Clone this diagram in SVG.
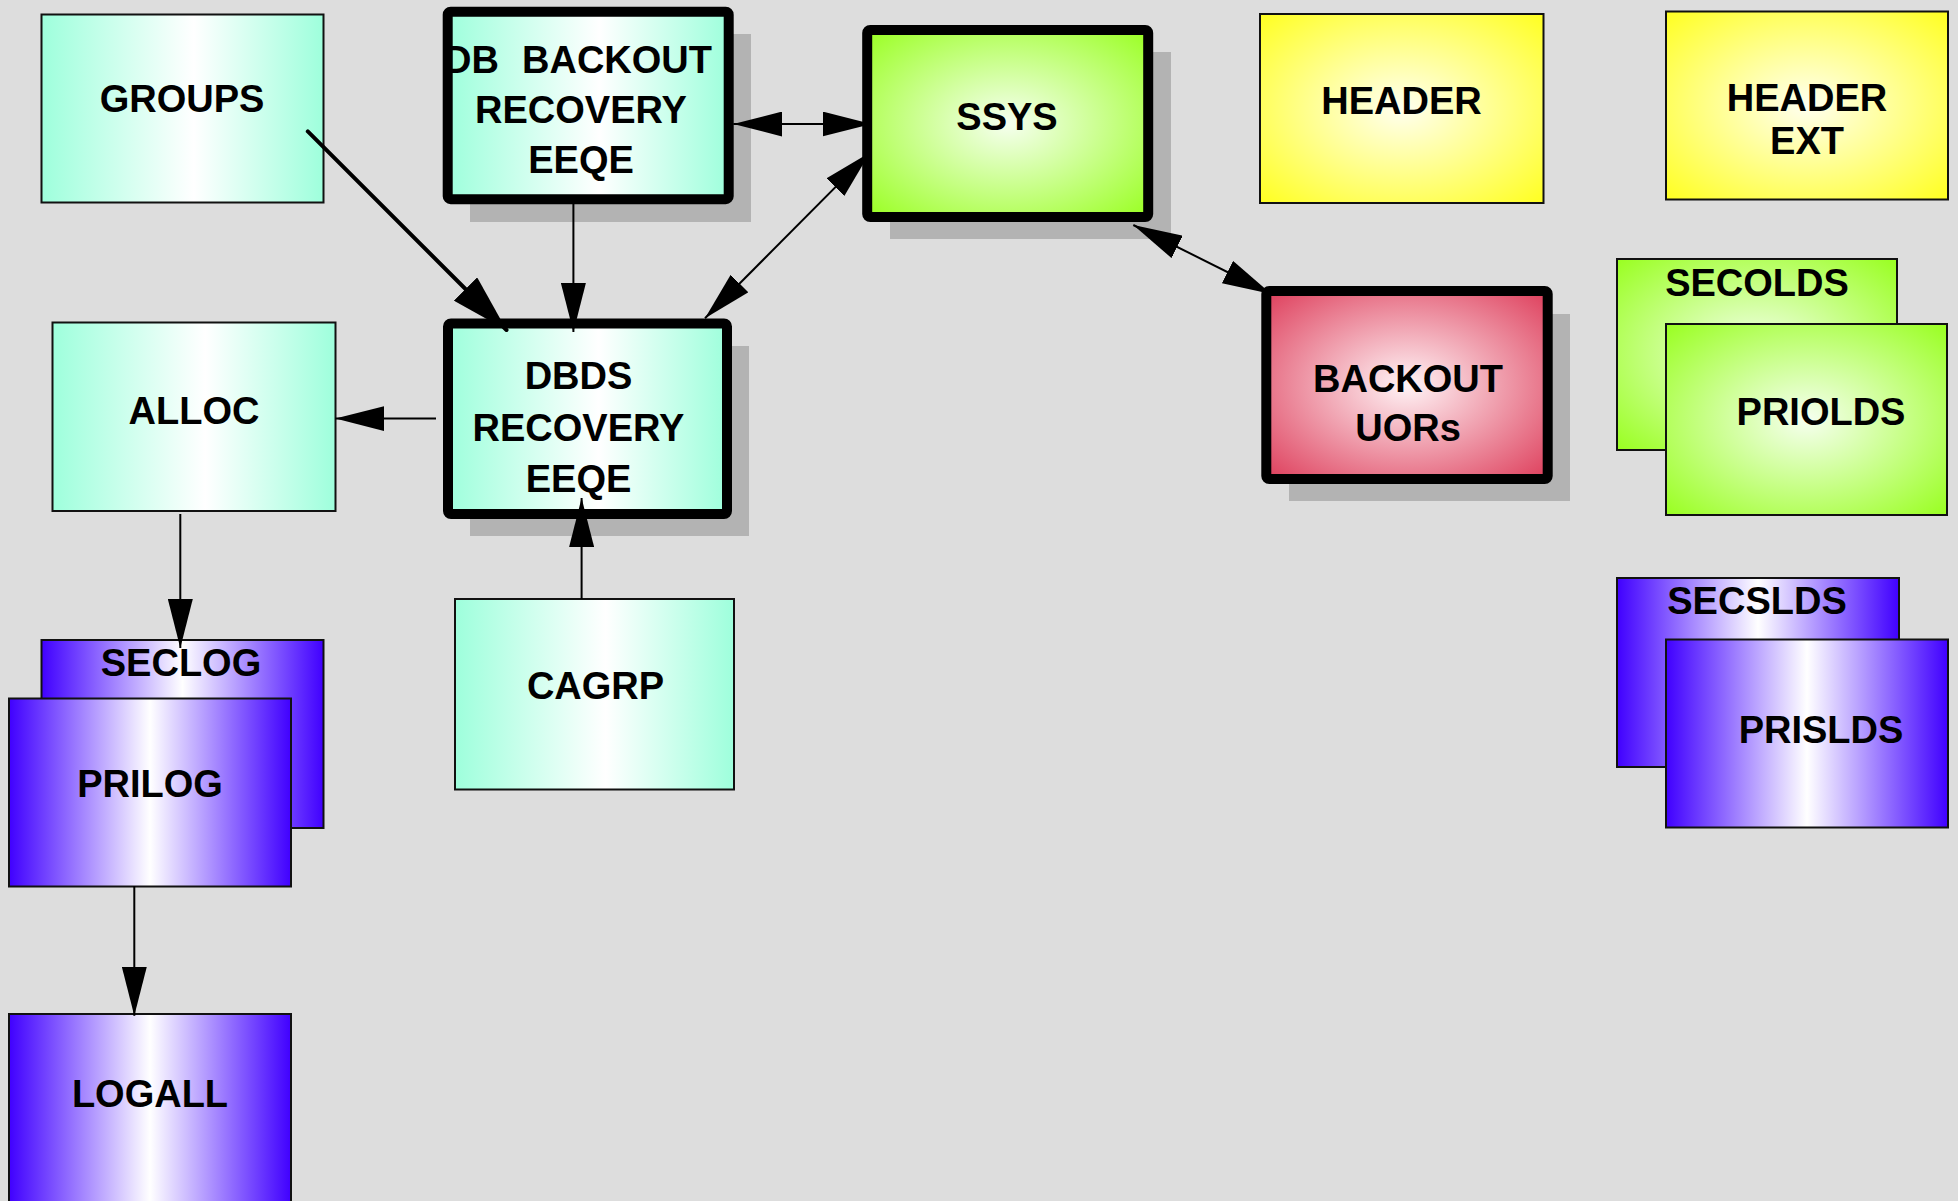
<svg xmlns="http://www.w3.org/2000/svg" width="1958" height="1201" viewBox="0 0 1958 1201">
  <defs>
    <style>
      .lbl { font-family: "Liberation Sans", Arial, Helvetica, sans-serif; font-weight: bold; font-size: 38px; fill: #000; text-anchor: middle; }
      .thin { stroke: #111; stroke-width: 2; }
      .thick { stroke: #000; stroke-width: 10; stroke-linejoin: round; fill: none; }
      .shadow { fill: #b3b3b3; }
      .aqua { fill: url(#gAqua); }
      .violet { fill: url(#gViolet); }
      .yellow { fill: url(#gYellow); }
      .lime { fill: url(#gLime); }
      .rose { fill: url(#gRose); }
      #connectors line { stroke: #000; stroke-width: 2; fill: none; }
    </style>
    <linearGradient id="gAqua" x1="0" y1="0" x2="1" y2="0">
      <stop offset="0" stop-color="#9effdc"/>
      <stop offset="0.54" stop-color="#ffffff"/>
      <stop offset="1" stop-color="#9effdc"/>
    </linearGradient>
    <linearGradient id="gViolet" x1="0" y1="0" x2="1" y2="0">
      <stop offset="0" stop-color="#4000ff"/>
      <stop offset="0.5" stop-color="#ffffff"/>
      <stop offset="1" stop-color="#4000ff"/>
    </linearGradient>
    <radialGradient id="gYellow" cx="0.5" cy="0.5" r="0.7">
      <stop offset="0" stop-color="#fffff0"/>
      <stop offset="1" stop-color="#ffff22"/>
    </radialGradient>
    <radialGradient id="gLime" cx="0.5" cy="0.5" r="0.7">
      <stop offset="0" stop-color="#f6fff0"/>
      <stop offset="1" stop-color="#9aff22"/>
    </radialGradient>
    <radialGradient id="gRose" cx="0.5" cy="0.5" r="0.7">
      <stop offset="0" stop-color="#fff4f6"/>
      <stop offset="1" stop-color="#de3f5c"/>
    </radialGradient>
    <marker id="head" markerUnits="userSpaceOnUse" viewBox="0 0 49 25" markerWidth="49" markerHeight="25" refX="49" refY="12.5" orient="auto-start-reverse">
      <path d="M0,0 L49,12.5 L0,25 Z" fill="#000"/>
    </marker>
    <marker id="headBig" markerUnits="userSpaceOnUse" viewBox="0 0 58 33" markerWidth="58" markerHeight="33" refX="58" refY="16.5" orient="auto">
      <path d="M0,0 L58,16.5 L0,33 Z" fill="#000"/>
    </marker>
  </defs>

  <!-- background -->
  <rect x="0" y="0" width="1958" height="1201" fill="#dddddd"/>

  <!-- nodes -->
  <g id="groups">
    <rect class="aqua thin" x="41.5" y="14.5" width="282" height="188"/>
    <text class="lbl" x="182" y="112">GROUPS</text>
  </g>

  <g id="db-backout-recovery">
    <rect class="shadow" x="470" y="34" width="281" height="188"/>
    <rect class="aqua" x="447.7" y="11.7" width="281" height="187.5"/>
    <text class="lbl" style="text-anchor:start" y="72.5"><tspan x="444">DB</tspan><tspan x="522">BACKOUT</tspan></text>
    <text class="lbl" x="581" y="123">RECOVERY</text>
    <text class="lbl" x="581" y="173">EEQE</text>
    <rect class="thick" x="447.7" y="11.7" width="281" height="187.5" rx="3"/>
  </g>

  <g id="ssys">
    <rect class="shadow" x="890" y="52" width="281" height="187"/>
    <rect class="lime" x="867.2" y="30" width="281" height="187"/>
    <rect class="thick" x="867.2" y="30" width="281" height="187" rx="3"/>
    <text class="lbl" x="1007" y="130">SSYS</text>
  </g>

  <g id="header">
    <rect class="yellow thin" x="1260" y="14" width="283.5" height="189"/>
    <text class="lbl" x="1401.5" y="114">HEADER</text>
  </g>

  <g id="header-ext">
    <rect class="yellow thin" x="1666" y="11.5" width="282" height="188"/>
    <text class="lbl" x="1807" y="110.7">HEADER</text>
    <text class="lbl" x="1807" y="154">EXT</text>
  </g>

  <g id="backout-uors">
    <rect class="shadow" x="1289" y="314" width="281" height="187"/>
    <rect class="rose" x="1266.3" y="291" width="281.4" height="188"/>
    <rect class="thick" x="1266.3" y="291" width="281.4" height="188" rx="3"/>
    <text class="lbl" x="1408" y="391.5">BACKOUT</text>
    <text class="lbl" x="1408" y="441">UORs</text>
  </g>

  <g id="secolds">
    <rect class="lime thin" x="1617" y="259" width="280" height="191"/>
    <text class="lbl" x="1757" y="296">SECOLDS</text>
  </g>
  <g id="priolds">
    <rect class="lime thin" x="1666" y="324" width="281" height="191"/>
    <text class="lbl" x="1821" y="425">PRIOLDS</text>
  </g>

  <g id="secslds">
    <rect class="violet thin" x="1617" y="578" width="282" height="189"/>
    <text class="lbl" x="1757" y="614">SECSLDS</text>
  </g>
  <g id="prislds">
    <rect class="violet thin" x="1666" y="639.5" width="282" height="188"/>
    <text class="lbl" x="1821" y="743">PRISLDS</text>
  </g>

  <g id="dbds-recovery">
    <rect class="shadow" x="470" y="346" width="279" height="190"/>
    <rect class="aqua" x="448" y="323.5" width="279" height="190.5"/>
    <rect class="thick" x="448" y="323.5" width="279" height="190.5" rx="3"/>
    <text class="lbl" x="578.5" y="389">DBDS</text>
    <text class="lbl" x="578.5" y="441">RECOVERY</text>
    <text class="lbl" x="578.5" y="492">EEQE</text>
  </g>

  <g id="alloc">
    <rect class="aqua thin" x="52.5" y="322.5" width="283" height="188.5"/>
    <text class="lbl" x="194" y="424">ALLOC</text>
  </g>

  <g id="cagrp">
    <rect class="aqua thin" x="455" y="599" width="279" height="190.5"/>
    <text class="lbl" x="595.5" y="699">CAGRP</text>
  </g>

  <g id="seclog">
    <rect class="violet thin" x="41.5" y="640" width="282" height="188"/>
    <text class="lbl" x="181" y="676">SECLOG</text>
  </g>
  <g id="prilog">
    <rect class="violet thin" x="9" y="698.5" width="282" height="188"/>
    <text class="lbl" x="150" y="797">PRILOG</text>
  </g>

  <g id="logall">
    <rect class="violet thin" x="9" y="1014" width="282" height="200"/>
    <text class="lbl" x="150" y="1107">LOGALL</text>
  </g>

  <!-- connectors -->
  <g id="connectors">
    <line x1="307.8" y1="131.4" x2="506.5" y2="330" style="stroke-width:4;stroke-linecap:round" marker-end="url(#headBig)"/>
    <line x1="573.4" y1="203.6" x2="573.4" y2="332" marker-end="url(#head)"/>
    <line x1="436" y1="418.6" x2="335.4" y2="418.6" marker-end="url(#head)"/>
    <line x1="581.6" y1="598.8" x2="581.6" y2="498" marker-end="url(#head)"/>
    <line x1="733.3" y1="124" x2="871.5" y2="124" marker-start="url(#head)" marker-end="url(#head)"/>
    <line x1="705" y1="318.3" x2="870" y2="152.4" marker-start="url(#head)" marker-end="url(#head)"/>
    <line x1="1133.3" y1="225" x2="1271.3" y2="294" marker-start="url(#head)" marker-end="url(#head)"/>
    <line x1="180.3" y1="514" x2="180.3" y2="648" marker-end="url(#head)"/>
    <line x1="134.3" y1="886" x2="134.3" y2="1015.8" marker-end="url(#head)"/>
  </g>
</svg>
